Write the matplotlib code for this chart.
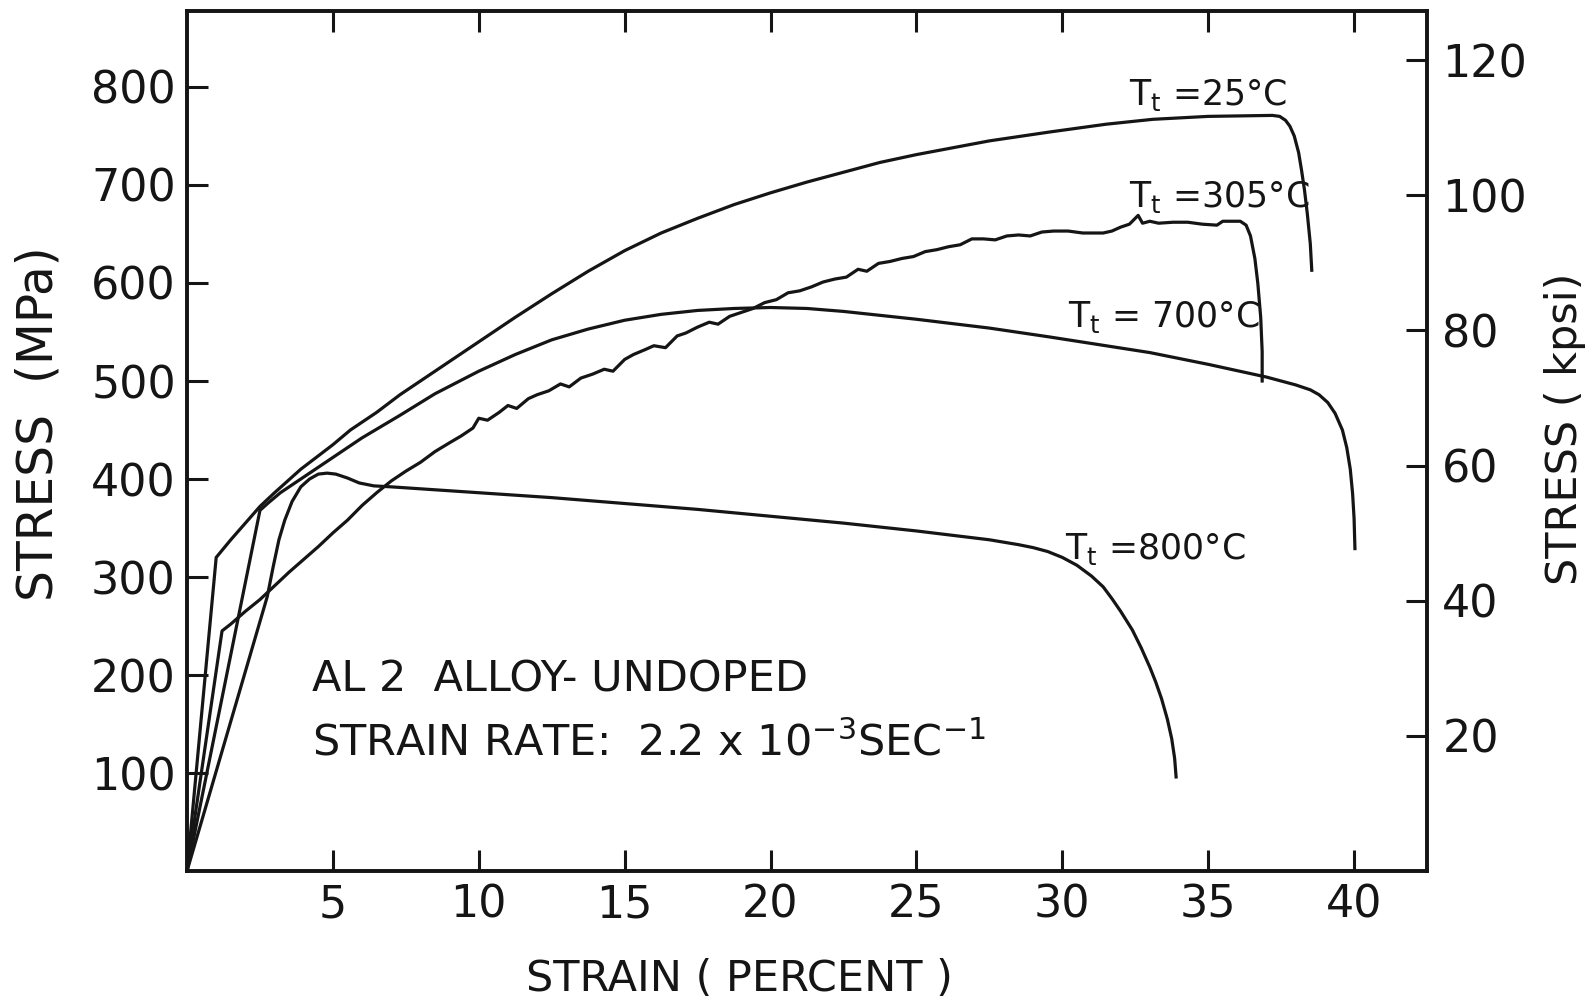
import matplotlib
matplotlib.use('Agg')
import matplotlib.pyplot as plt

# ---------------- data ----------------
# strain in percent, stress in MPa
strain_25 = [0, 1.0, 1.5, 2.0, 2.5, 3.0, 3.9, 5.0, 5.6, 6.5, 7.3, 8.5, 10.0,
             11.25, 12.5, 13.75, 15.0, 16.25, 17.5, 18.75, 20.0, 21.25, 22.5,
             23.75, 25.0, 26.25, 27.5, 29.55, 31.5, 33.1, 35.0, 37.2, 37.45,
             37.65, 37.8, 37.95, 38.1, 38.2, 38.3, 38.4, 38.5, 38.55]
stress_25 = [0, 320, 338, 355, 372, 386, 410, 435, 450, 468, 486, 510, 540,
             565, 589, 612, 633, 651, 666, 680, 692, 703, 713,
             723, 731, 738, 745, 754, 762, 767, 770, 771, 770,
             766, 760, 750, 733, 715, 695, 670, 640, 613]

strain_305 = [0, 1.2, 1.5, 2.0, 2.5, 3.0, 3.5, 4.0, 4.5, 5.0, 5.5, 6.0, 6.5, 7.0,
              7.5, 8.0, 8.5, 9.0, 9.4, 9.8, 10.0, 10.3, 10.7, 11.0, 11.3, 11.7,
              12.0, 12.4, 12.8, 13.1, 13.5, 13.9, 14.3, 14.6, 15.0, 15.3, 15.7,
              16.0, 16.4, 16.8, 17.1, 17.5, 17.9, 18.2, 18.6, 19.0, 19.4, 19.8,
              20.2, 20.6, 21.0, 21.4, 21.8, 22.2, 22.6, 23.0, 23.3, 23.7, 24.1,
              24.5, 24.9, 25.3, 25.7, 26.1, 26.5, 26.9, 27.3, 27.7, 28.1, 28.5,
              28.9, 29.3, 29.7, 30.2, 30.7, 31.4, 31.7, 32.0, 32.3, 32.5, 32.6,
              32.75, 33.0, 33.3, 33.8, 34.3, 34.8, 35.3, 35.5, 36.1, 36.3, 36.45,
              36.6, 36.7, 36.8, 36.85, 36.85]
stress_305 = [0, 245, 252, 265, 277, 291, 305, 318, 331, 345, 358, 373, 386, 398,
              408, 417, 428, 437, 444, 452, 462, 460, 468, 475, 472, 482,
              486, 490, 497, 494, 503, 507, 512, 510, 522, 527, 532,
              536, 534, 546, 549, 555, 560, 558, 566, 570, 574, 580,
              583, 590, 592, 596, 601, 604, 606, 614, 612, 620, 622,
              625, 627, 632, 634, 637, 639, 645, 645, 644, 648, 649,
              648, 652, 653, 653, 651, 651, 653, 657, 660, 666, 669,
              661, 663, 661, 662, 662, 660, 659, 663, 663, 659, 648,
              625, 600, 565, 530, 500]

strain_700 = [0, 2.5, 2.8, 3.2, 3.9, 5.0, 6.0, 7.3, 8.5, 10.0, 11.25, 12.5,
              13.75, 15.0, 16.25, 17.5, 18.75, 20.0, 21.25, 22.5, 25.0, 27.5,
              29.55, 33.0, 35.0, 37.0, 38.0, 38.5, 38.8, 39.1, 39.35, 39.6,
              39.75, 39.87, 39.95, 40.0, 40.03]
stress_700 = [0, 368, 376, 386, 400, 422, 442, 465, 487, 510, 527, 542,
              553, 562, 568, 572, 574, 575, 574, 571, 563, 554,
              545, 529, 517, 504, 496, 491, 486, 478, 467, 450,
              432, 410, 385, 360, 329]

strain_800 = [0, 2.75, 2.95, 3.15, 3.35, 3.6, 3.9, 4.2, 4.5, 4.8, 5.1, 5.5, 5.9,
              6.4, 7.0, 8.0, 9.0, 10.0, 12.5, 15.0, 17.5, 20.0, 22.5, 25.0,
              27.5, 28.5, 29.0, 29.5, 30.0, 30.5, 31.0, 31.4, 31.7, 32.0, 32.4,
              32.7, 33.0, 33.2, 33.4, 33.6, 33.75, 33.85, 33.9]
stress_800 = [0, 280, 310, 338, 358, 377, 392, 400, 405, 406, 405, 401, 396,
              393, 392, 390, 388, 386, 381, 375, 369, 362, 355, 347,
              338, 333, 330, 326, 320, 312, 301, 290, 278, 265, 246,
              228, 208, 193, 176, 155, 135, 115, 96]

x_ticks = [5, 10, 15, 20, 25, 30, 35, 40]
mpa_ticks = [100, 200, 300, 400, 500, 600, 700, 800]
kpsi_ticks = [20, 40, 60, 80, 100, 120]
MPA_TO_KPSI = 0.145038

curve_labels = [r'T$_t$ =25°C', r'T$_t$ =305°C', r'T$_t$ = 700°C', r'T$_t$ =800°C']
label_pos = [(32.3, 782), (32.3, 678), (30.2, 555), (30.1, 318)]

# ---------------- figure ----------------
plt.rcParams['font.family'] = 'DejaVu Sans'
plt.rcParams['mathtext.default'] = 'regular'
ink = '#151515'

fig = plt.figure(figsize=(15.93, 10.02), dpi=100)
ax = fig.add_axes([0.1174, 0.1307, 0.7784, 0.8583])

for xs, ys in [(strain_25, stress_25), (strain_305, stress_305),
               (strain_700, stress_700), (strain_800, stress_800)]:
    ax.plot(xs, ys, color=ink, linewidth=2.3, solid_joinstyle='round')

ax.set_xlim(0, 42.5)
ax.set_ylim(0, 877.5)
ax.set_xticks(x_ticks)
ax.set_yticks(mpa_ticks)
ax.tick_params(axis='both', direction='in', length=15, width=2.2, color=ink,
               labelsize=32, labelcolor=ink, top=True, right=False)
ax.tick_params(axis='x', pad=9)
ax.tick_params(axis='y', pad=8)
for s in ax.spines.values():
    s.set_linewidth(2.6)
    s.set_color(ink)

# secondary kpsi axis
ax2 = ax.twinx()
ax2.set_ylim(0, 877.5 * MPA_TO_KPSI)
ax2.set_yticks(kpsi_ticks)
ax2.tick_params(axis='y', direction='in', length=15, width=2.2, color=ink,
                labelsize=32, labelcolor=ink, pad=11)
for s in ax2.spines.values():
    s.set_linewidth(2.6)
    s.set_color(ink)

for txt, (x, y) in zip(curve_labels, label_pos):
    ax.text(x, y, txt, fontsize=25, color=ink, va='baseline', ha='left')

ax.text(4.28, 183, 'AL 2  ALLOY- UNDOPED', fontsize=31, color=ink, va='baseline')
ax.text(4.28, 118, r'STRAIN RATE:  2.2 x 10$^{-3}$SEC$^{-1}$', fontsize=31,
        color=ink, va='baseline')

fig.text(39 / 1593, 1 - 424 / 1002, 'STRESS  (MPa)', rotation=90, fontsize=35,
         color=ink, ha='center', va='center')
fig.text(1565 / 1593, 1 - 429 / 1002, 'STRESS ( kpsi)', rotation=90, fontsize=31,
         color=ink, ha='center', va='center')
fig.text(739 / 1593, 1 - 979 / 1002, 'STRAIN ( PERCENT )', fontsize=31,
         color=ink, ha='center', va='center')

fig.savefig('out.png', dpi=100, facecolor='white')
